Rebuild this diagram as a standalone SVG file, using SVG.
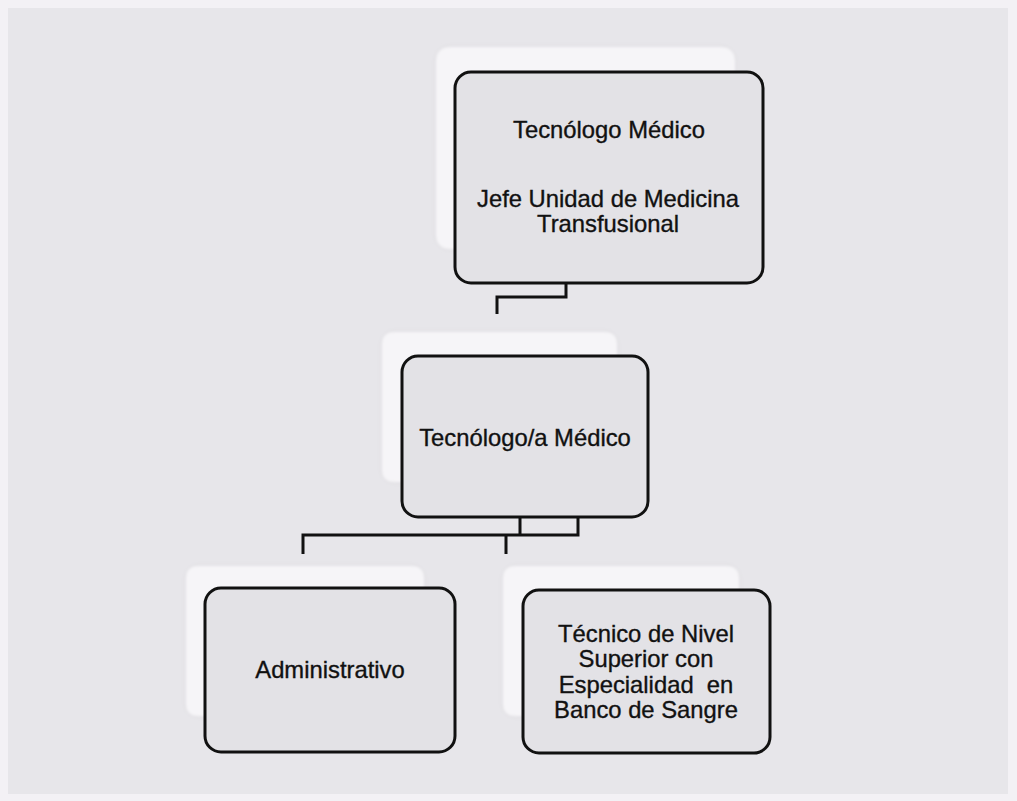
<svg xmlns="http://www.w3.org/2000/svg" width="1017" height="801" viewBox="0 0 1017 801">
<defs>
<filter id="soft" x="-5%" y="-5%" width="110%" height="110%"><feGaussianBlur stdDeviation="1.5"/></filter>
</defs>
<style>
.back{fill:#f6f5f8;stroke:#d4d3d7;stroke-width:1;filter:url(#soft)}
.front{fill:#e3e2e6;stroke:#111;stroke-width:3}
.lbl{font-family:"Liberation Sans",Arial,sans-serif;font-size:23.8px;fill:#111;stroke:#111;stroke-width:0.35;text-anchor:middle;white-space:pre}
.conn{fill:none;stroke:#111;stroke-width:3;stroke-linejoin:miter}
</style>
<rect x="0" y="0" width="1017" height="801" fill="#f3f1f5"/>
<rect x="8" y="8" width="1000" height="786" fill="#e7e6ea"/>
<g id="connectors">
<path class="conn" d="M566 283 V297 H497 V314"/>
<path class="conn" d="M520 516 V535 M578 516 V535 H303 V554 M506 535 V554"/>
</g>
<g id="n1">
<rect class="back" x="435" y="46" width="301" height="204" rx="14"/>
<rect class="front" x="455" y="72" width="308" height="211" rx="16"/>
<text class="lbl" x="609" y="138">Tecnólogo Médico</text>
<text class="lbl" x="608" y="207">Jefe Unidad de Medicina</text>
<text class="lbl" x="608" y="232">Transfusional</text>
</g>
<g id="n2">
<rect class="back" x="381" y="331" width="237" height="152" rx="12"/>
<rect class="front" x="402" y="356" width="246" height="161" rx="16"/>
<text class="lbl" x="525" y="446">Tecnólogo/a Médico</text>
</g>
<g id="n3">
<rect class="back" x="185" y="565" width="240" height="152" rx="12"/>
<rect class="front" x="205" y="588" width="250" height="164" rx="16"/>
<text class="lbl" x="330" y="678">Administrativo</text>
</g>
<g id="n4">
<rect class="back" x="502" y="565" width="238" height="152" rx="12"/>
<rect class="front" x="523" y="590" width="247" height="163" rx="16"/>
<text class="lbl" x="646" y="642">Técnico de Nivel</text>
<text class="lbl" x="646" y="667">Superior con</text>
<text class="lbl" x="646" y="693" xml:space="preserve">Especialidad  en</text>
<text class="lbl" x="646" y="718">Banco de Sangre</text>
</g>
</svg>
